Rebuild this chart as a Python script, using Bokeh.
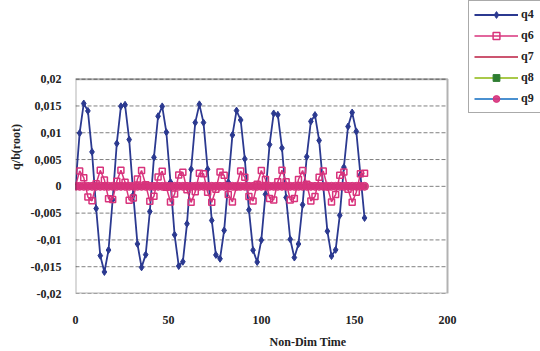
from bokeh.plotting import figure
from bokeh.models import (FixedTicker, CustomJSTickFormatter, Legend, LegendItem,
                          ColumnDataSource, BoxAnnotation)
from bokeh.embed import file_html
from bokeh.resources import INLINE

# ---- data ----
t = [0, 2.22, 4.44, 6.66, 8.88, 11.1, 13.32, 15.54, 17.76, 19.98, 22.2, 24.42, 26.64, 28.86,
     31.08, 33.3, 35.52, 37.74, 39.96, 42.18, 44.4, 46.62, 48.84, 51.06, 53.28, 55.5, 57.72,
     59.94, 62.16, 64.38, 66.6, 68.82, 71.04, 73.26, 75.48, 77.7, 79.92, 82.14, 84.36, 86.58,
     88.8, 91.02, 93.24, 95.46, 97.68, 99.9, 102.12, 104.34, 106.56, 108.78, 111.0, 113.22,
     115.44, 117.66, 119.88, 122.1, 124.32, 126.54, 128.76, 130.98, 133.2, 135.42, 137.64,
     139.86, 142.08, 144.3, 146.52, 148.74, 150.96, 153.18, 155.4]

q4 = [0.0, 0.00994, 0.01546, 0.01408, 0.00643, -0.00414, -0.01294, -0.01598, -0.01189, -0.0025,
      0.008, 0.01494, 0.01522, 0.00872, -0.0016, -0.01075, -0.01512, -0.01275, -0.0047,
      0.0054, 0.01308, 0.01492, 0.0101, 0.00079, -0.00905, -0.01488, -0.01407, -0.00699,
      0.00318, 0.01189, 0.0153, 0.01189, 0.00318, -0.00636, -0.0128, -0.01352, -0.00823,
      0.00075, 0.00957, 0.01413, 0.01238, 0.00512, -0.00439, -0.01191, -0.01413, -0.01004,
      -0.00149, 0.00779, 0.0136, 0.01335, 0.00715, -0.00208, -0.00988, -0.01329, -0.01076,
      -0.00344, 0.00553, 0.01212, 0.0133, 0.00856, 0.0, -0.00837, -0.01301, -0.01185,
      -0.00541, 0.00357, 0.01116, 0.01378, 0.01025, 0.00216, -0.0059]

q6 = [0.0, 0.00288, 0.00161, -0.00198, -0.00271, 0.00047, 0.00298, 0.00119, -0.00231, -0.00248,
      0.00093, 0.003, 0.00075, -0.00258, -0.00219, 0.00136, 0.00295, 0.00028, -0.00279,
      -0.00184, 0.00176, 0.00282, -0.00019, -0.00293, -0.00145, 0.00212, 0.00263, -0.00065,
      -0.00299, -0.00102, 0.00243, 0.00237, -0.0011, -0.00299, -0.00056, 0.00267, 0.00205,
      -0.00153, -0.00291, -0.00009, 0.00285, 0.00169, -0.00191, -0.00275, 0.00038, 0.00296,
      0.00128, -0.00225, -0.00253, 0.00084, 0.003, 0.00084, -0.00253, -0.00225, 0.00128,
      0.00296, 0.00038, -0.00275, -0.00191, 0.00169, 0.00285, -0.00009, -0.00291, -0.00153,
      0.00205, 0.00267, -0.00056, -0.00299, -0.0011, 0.00237, 0.00243]

zero_series = [0, 0, 0, 0, 0, 0, 0, 0, 0, 0, 0, 0, 0, 0, 0, 0, 0, 0, 0, 0, 0, 0, 0, 0,
               0, 0, 0, 0, 0, 0, 0, 0, 0, 0, 0, 0, 0, 0, 0, 0, 0, 0, 0, 0, 0, 0, 0, 0,
               0, 0, 0, 0, 0, 0, 0, 0, 0, 0, 0, 0, 0, 0, 0, 0, 0, 0, 0, 0, 0, 0, 0]
q7 = zero_series
q8 = zero_series
q9 = zero_series

series_names = ["q4", "q6", "q7", "q8", "q9"]
x_ticks = [0, 50, 100, 150, 200]
y_ticks = [-0.02, -0.015, -0.01, -0.005, 0, 0.005, 0.01, 0.015, 0.02]

FONT = "Liberation Serif"
C4 = "#2b3990"
C6 = "#d8337c"
C7 = "#cc5570"
C8L = "#a9c94a"
C8M = "#2e7d32"
C9L = "#4a90d0"
C9M = "#d8337c"

# The frame is widened to the right and upwards so the legend (which sits outside the
# plotted box in the original) is not clipped; the plotted box is drawn by a BoxAnnotation.
X_LO, X_HI = x_ticks[0], x_ticks[-1]
Y_LO, Y_HI = y_ticks[0], y_ticks[-1]

p = figure(width=540, height=351, x_range=(X_LO, 250), y_range=(Y_LO, 0.03468),
           output_backend="svg", toolbar_location=None,
           min_border_left=75, min_border_right=0, min_border_top=0, min_border_bottom=53)
p.background_fill_color = "white"
p.border_fill_color = "white"
p.outline_line_color = None

p.xaxis.ticker = FixedTicker(ticks=x_ticks)
p.yaxis.ticker = FixedTicker(ticks=y_ticks)
p.xaxis.bounds = (X_LO, X_HI)
p.yaxis.bounds = (Y_LO, Y_HI)
p.yaxis.formatter = CustomJSTickFormatter(code="""
    const v = Math.round(tick * 1000) / 1000;
    return v.toString().replace('.', ',');
""")
for ax in (p.xaxis, p.yaxis):
    ax.axis_line_color = None
    ax.major_tick_line_color = None
    ax.minor_tick_line_color = None
    ax.major_label_text_font = FONT
    ax.major_label_text_font_style = "bold"
    ax.major_label_text_font_size = "12px"
    ax.major_label_text_color = "#222222"
    ax.axis_label_text_font = FONT
    ax.axis_label_text_font_style = "bold"
    ax.axis_label_text_font_size = "12px"
    ax.axis_label_text_color = "#222222"
p.xaxis.axis_label = "Non-Dim Time"
p.yaxis.axis_label = "q/b(root)"
p.xaxis.major_label_standoff = 16
p.xaxis.axis_label_standoff = 8
p.yaxis.major_label_standoff = 8
p.yaxis.axis_label_standoff = 5

p.grid.visible = False
# horizontal dashed gridlines at the y ticks, spanning the plotted box
p.segment(x0=X_LO, x1=X_HI, y0=y_ticks, y1=y_ticks, line_color="#808080",
          line_dash="4 2", line_width=1)

src = ColumnDataSource(dict(t=t, q4=q4, q6=q6, q7=q7, q8=q8, q9=q9))

l4 = p.line("t", "q4", source=src, line_color=C4, line_width=1.8)
m4 = p.scatter("t", "q4", source=src, marker="diamond", size=7, fill_color=C4, line_color=C4)
l6 = p.line("t", "q6", source=src, line_color=C6, line_width=1.5)
m6 = p.scatter("t", "q6", source=src, marker="square", size=6, fill_alpha=0.0,
               line_color=C6, line_width=1.5)
l7 = p.line("t", "q7", source=src, line_color=C7, line_width=2)
l8 = p.line("t", "q8", source=src, line_color=C8L, line_width=2)
m8 = p.scatter("t", "q8", source=src, marker="square", size=4, fill_color=C8M, line_color=C8M)
l9 = p.line("t", "q9", source=src, line_color=C9L, line_width=2)
m9 = p.scatter("t", "q9", source=src, marker="circle", size=8, fill_color=C9M,
               line_color=C9M, fill_alpha=0.9)
rends = [[l4, m4], [l6, m6], [l7], [l8, m8], [l9, m9]]

p.add_layout(BoxAnnotation(left=X_LO, right=X_HI, bottom=Y_LO, top=Y_HI,
                           fill_color=None, fill_alpha=0, line_color="black", line_width=2))

legend = Legend(items=[LegendItem(label=n, renderers=r) for n, r in zip(series_names, rends)],
                location=(393, 180))
legend.border_line_color = "#555555"
legend.border_line_width = 1
legend.background_fill_color = "white"
legend.label_text_font = FONT
legend.label_text_font_style = "bold"
legend.label_text_font_size = "12px"
legend.label_text_color = "#222222"
legend.glyph_width = 44
legend.glyph_height = 17
legend.label_height = 17
legend.spacing = 4
legend.padding = 5
legend.margin = 0
legend.label_standoff = 3
p.add_layout(legend)

open("out.html", "w").write(file_html(p, INLINE))
